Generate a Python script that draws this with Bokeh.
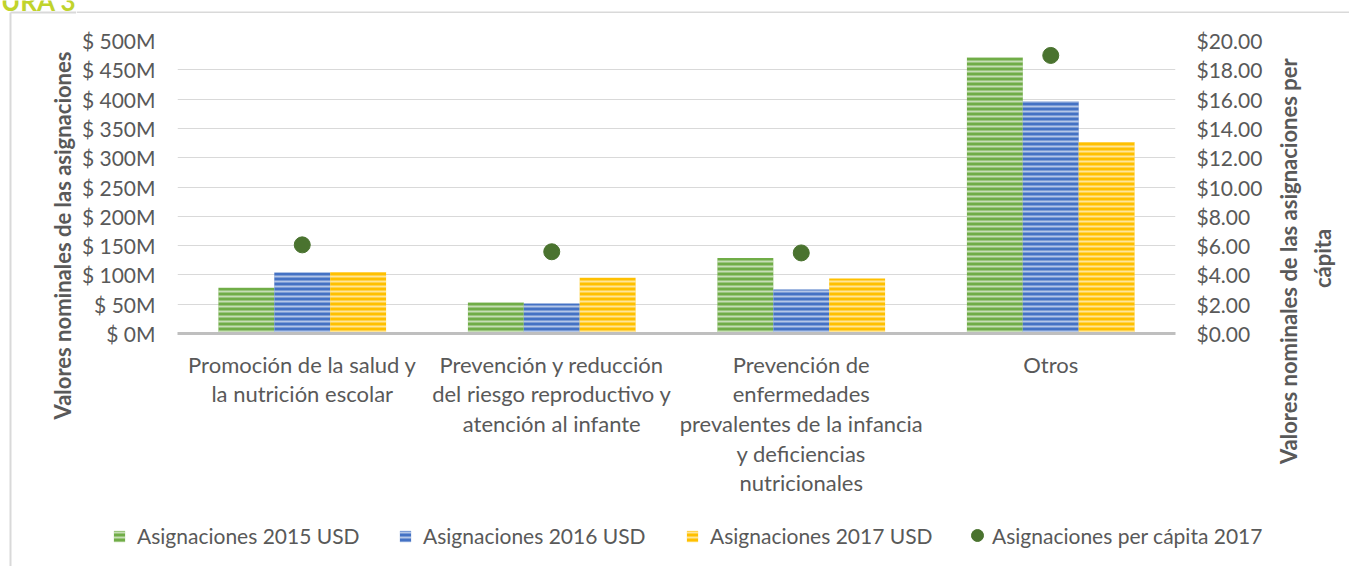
from bokeh.plotting import figure
from bokeh.layouts import column, row
from bokeh.models import (FactorRange, Range1d, LinearAxis, FixedTicker, PrintfTickFormatter,
                          NumeralTickFormatter, ColumnDataSource, Legend, LegendItem, Label, Span)
from bokeh.transform import dodge
from bokeh.embed import file_html
from bokeh.resources import INLINE
from math import pi

# ---- data ----
categories = [
    "Promoción de la salud y\nla nutrición escolar",
    "Prevención y reducción\ndel riesgo reproductivo y\natención al infante",
    "Prevención de\nenfermedades\nprevalentes de la infancia\ny deficiencias\nnutricionales",
    "Otros",
]
asig_2015 = [78, 53, 129, 471]      # millones USD
asig_2016 = [104, 51, 75, 396]
asig_2017 = [105, 95, 94, 327]
per_capita_2017 = [6.05, 5.58, 5.50, 18.98]  # USD
left_ticks = list(range(0, 501, 50))
right_ticks = list(range(0, 21, 2))
series_labels = ["Asignaciones 2015 USD", "Asignaciones 2016 USD", "Asignaciones 2017 USD",
                 "Asignaciones per cápita 2017"]
left_title = "Valores nominales de las asignaciones"
right_title = "Valores  nominales de las asignaciones per\ncápita"
fig_title = "URA 3"

FONT = "Lato"
TXT = "#595959"
GRID = "#d9d9d9"
C15, C16, C17, CDOT = "#70AD47", "#4472C4", "#FFC000", "#4A732F"
HATCH = dict(line_color=None, hatch_pattern="horizontal_line", hatch_color="white",
             hatch_alpha=0.6, hatch_scale=5, hatch_weight=2)

LEFT_W, RIGHT_W = 76, 79


def strip(w, h, xr=(0, 1), yr=(0, 1)):
    f = figure(width=w, height=h, x_range=Range1d(*xr), y_range=Range1d(*yr),
               output_backend="svg", toolbar_location=None,
               min_border_left=0, min_border_right=0, min_border_top=0, min_border_bottom=0)
    f.frame_align = False
    f.axis.visible = False
    f.grid.visible = False
    f.outline_line_color = None
    return f


src = ColumnDataSource(dict(cat=categories, y15=asig_2015, y16=asig_2016, y17=asig_2017, pc=per_capita_2017))

# ---- main chart ----
p = figure(width=1349 - LEFT_W - RIGHT_W, height=497, x_range=FactorRange(*categories),
           y_range=Range1d(0, 500), output_backend="svg", toolbar_location=None,
           min_border_left=101, min_border_right=95, min_border_top=27, min_border_bottom=177)
p.frame_align = False
p.outline_line_color = None
p.extra_y_ranges = {"right": Range1d(0, 20)}

W = 0.224
r15 = p.vbar(x=dodge("cat", -W, range=p.x_range), top="y15", width=W, source=src, fill_color=C15, **HATCH)
r16 = p.vbar(x=dodge("cat", 0, range=p.x_range), top="y16", width=W, source=src, fill_color=C16, **HATCH)
r17 = p.vbar(x=dodge("cat", W, range=p.x_range), top="y17", width=W, source=src, fill_color=C17, **HATCH)
rdot = p.scatter(x="cat", y="pc", source=src, y_range_name="right", size=16,
                 fill_color=CDOT, line_color=CDOT)

ly = p.yaxis[0]
ly.ticker = FixedTicker(ticks=left_ticks)
ly.formatter = PrintfTickFormatter(format="$ %dM")
ly.major_label_standoff = 22
ry = LinearAxis(y_range_name="right", ticker=FixedTicker(ticks=right_ticks),
                formatter=NumeralTickFormatter(format="$0.00"))
ry.major_label_standoff = 21
p.add_layout(ry, "right")
xa = p.xaxis[0]
xa.major_label_standoff = 17
for ax in (ly, ry, xa):
    ax.major_tick_line_color = None
    ax.minor_tick_line_color = None
    ax.major_tick_out = 0
    ax.major_tick_in = 0
    ax.minor_tick_out = 0
    ax.minor_tick_in = 0
    ax.major_label_text_font = FONT
    ax.major_label_text_color = TXT
for ax in (ly, ry):
    ax.axis_line_color = None
    ax.major_label_text_font_size = "21px"

xa.axis_line_color = "#bfbfbf"
xa.axis_line_width = 3
xa.major_label_text_font_size = "22px"
xa.major_label_text_line_height = 1.1

p.xgrid.grid_line_color = None
p.ygrid.grid_line_color = GRID
p.ygrid.ticker = FixedTicker(ticks=left_ticks)

# ---- left strip: frame border, left axis title, cut-off figure title (page pixel coords) ----
ls = strip(LEFT_W, 566, xr=(0, LEFT_W), yr=(566, 0))
ls.segment(x0=[10, 10], y0=[12, 12], x1=[LEFT_W, 10], y1=[12, 566], line_color=GRID, line_width=2)
ls.add_layout(Label(x=62, y=235, text=left_title, angle=pi / 2, text_align="center",
                    text_baseline="middle", text_font=FONT, text_font_size="22px",
                    text_font_style="bold", text_color=TXT))
ls.add_layout(Label(x=LEFT_W, y=0, text=fig_title, text_align="right", text_baseline="alphabetic",
                    text_font=FONT, text_font_size="26px", text_font_style="bold",
                    text_color="#C0D32C"))

# ---- top strip: frame top border ----
ts = strip(1349 - LEFT_W, 13, yr=(0, 13))
ts.add_layout(Span(location=1, dimension="width", line_color=GRID, line_width=2))

# ---- right axis title strip ----
rt = strip(RIGHT_W, 497)
rt.add_layout(Label(x=35, y=252, x_units="screen", y_units="screen", text=right_title,
                    angle=pi / 2, text_align="center", text_baseline="middle",
                    text_font=FONT, text_font_size="22px", text_font_style="bold",
                    text_color=TXT, text_line_height=1.25))

# ---- legend strip ----
lf = strip(1349 - LEFT_W, 56)
dummy = ColumnDataSource(dict(x=[-5], y=[-5]))
d15 = lf.vbar(x="x", top="y", width=0.1, source=dummy, fill_color=C15, **HATCH)
d16 = lf.vbar(x="x", top="y", width=0.1, source=dummy, fill_color=C16, **HATCH)
d17 = lf.vbar(x="x", top="y", width=0.1, source=dummy, fill_color=C17, **HATCH)
ddot = lf.scatter(x="x", y="y", source=dummy, size=16, fill_color=CDOT, line_color=CDOT)
specs = [(36, 18, 14, 11), (322, 18, 14, 11), (609, 18, 14, 11), (886, 16, 30, 0)]
for lab, r, (x, y, g, so) in zip(series_labels, [d15, d16, d17, ddot], specs):
    lg = Legend(items=[LegendItem(label=lab, renderers=[r])], location=(x, y),
                orientation="horizontal", glyph_width=g, glyph_height=g, label_standoff=so,
                padding=0, margin=0, border_line_color=None, background_fill_alpha=0,
                label_text_font=FONT, label_text_font_size="21px", label_text_color=TXT)
    lf.add_layout(lg)

layout = row(ls, column(ts, row(p, rt, spacing=0), lf, spacing=0), spacing=0)

open("out.html", "w").write(file_html(layout, INLINE))
